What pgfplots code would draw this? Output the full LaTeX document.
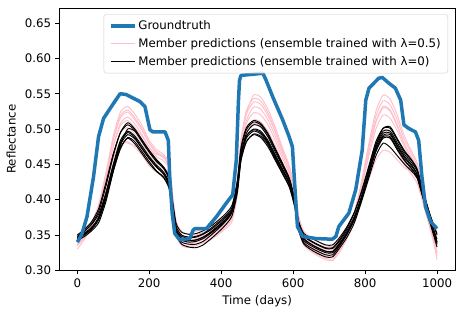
\documentclass[border=0pt]{standalone}
\usepackage{fontspec}
\setmainfont{DejaVu Sans}
\usepackage{pgfplots}
\pgfplotsset{compat=1.18}
\definecolor{mplblue}{HTML}{1F77B4}
\definecolor{mplpink}{HTML}{FFC0CB}
\begin{document}
\fontsize{11.8}{14.2}\selectfont
\begin{tikzpicture}
\path[use as bounding box] (-59.3pt,-44.7pt) rectangle (403.7pt,270.3pt);
\begin{axis}[
  at={(0pt,0pt)}, anchor=south west,
  scale only axis, width=395.7pt, height=262pt,
  xmin=-50, xmax=1050, ymin=0.30, ymax=0.671,
  xtick={0,200,400,600,800,1000},
  ytick={0.30,0.35,0.40,0.45,0.50,0.55,0.60,0.65},
  /pgf/number format/assume math mode=true,
  /pgf/number format/1000 sep={},
  yticklabel style={/pgf/number format/.cd, fixed, fixed zerofill, precision=2},
  tick label style={font=\fontsize{11.8}{14.2}\selectfont},
  label style={font=\fontsize{11.8}{14.2}\selectfont},
  tick align=outside, tick pos=left, major tick length=4.1pt,
  tick style={black, line width=0.95pt},
  axis line style={line width=0.95pt},
  xlabel={Time (days)}, ylabel={Reflectance},
  ylabel style={yshift=1pt},
  legend style={at={(1,1)}, anchor=north east, xshift=-7pt, yshift=-6pt,
    draw=black!20, rounded corners=2.5pt, fill=white, fill opacity=0.8, text opacity=1,
    font=\fontsize{11.8}{14.2}\selectfont, row sep=3.2pt, inner xsep=5pt, inner ysep=4pt},
  legend cell align=left,
  legend image code/.code={\draw[#1] (0pt,0pt) -- (24pt,0pt);},
  every axis plot/.append style={line join=round},
]
\addlegendimage{mplblue, line width=3.5pt}
\addlegendentry{Groundtruth}
\addlegendimage{mplpink, line width=1.2pt}
\addlegendentry{Member predictions (ensemble trained with λ=0.5)}
\addlegendimage{black, line width=1.2pt}
\addlegendentry{Member predictions (ensemble trained with λ=0)}

\pgfplotsset{pinkline/.style={mplpink, line width=0.95pt, smooth, tension=0.4, forget plot}}
\pgfplotsset{blackline/.style={black, line width=0.95pt, smooth, tension=0.4, forget plot}}

% pink members
\addplot[pinkline] coordinates {(0,.330) (20,.344) (40,.362) (60,.394) (80,.439) (100,.490) (120,.524) (140,.532) (160,.521) (180,.505) (200,.484) (220,.471) (240,.464) (255,.451) (265,.405) (275,.352) (290,.337) (310,.334) (330,.337) (350,.341) (370,.345) (390,.352) (410,.360) (430,.374) (445,.419) (455,.480) (470,.522) (490,.548) (510,.545) (530,.528) (550,.503) (570,.474) (590,.447) (605,.410) (615,.363) (630,.337) (660,.325) (690,.317) (710,.316) (730,.328) (750,.347) (770,.373) (790,.425) (810,.478) (830,.525) (850,.548) (870,.542) (890,.519) (910,.489) (930,.468) (945,.452) (960,.419) (980,.372) (1000,.315)};
\addplot[pinkline] coordinates {(0,.342) (20,.354) (40,.368) (60,.392) (80,.436) (100,.484) (120,.516) (140,.524) (160,.513) (180,.498) (200,.479) (220,.466) (240,.459) (255,.446) (265,.403) (275,.365) (290,.350) (310,.347) (330,.350) (350,.354) (370,.358) (390,.365) (410,.373) (430,.386) (445,.424) (455,.482) (470,.521) (490,.538) (510,.535) (530,.519) (550,.496) (570,.468) (590,.443) (605,.408) (615,.375) (630,.350) (660,.338) (690,.330) (710,.329) (730,.341) (750,.360) (770,.382) (790,.422) (810,.473) (830,.518) (850,.540) (870,.534) (890,.512) (910,.484) (930,.464) (945,.448) (960,.416) (980,.376) (1000,.342)};
\addplot[pinkline] coordinates {(0,.336) (20,.348) (40,.363) (60,.389) (80,.430) (100,.477) (120,.508) (140,.517) (160,.507) (180,.492) (200,.474) (220,.461) (240,.455) (255,.443) (265,.401) (275,.357) (290,.342) (310,.339) (330,.342) (350,.346) (370,.350) (390,.357) (410,.365) (430,.377) (445,.418) (455,.474) (470,.512) (490,.531) (510,.528) (530,.513) (550,.490) (570,.464) (590,.439) (605,.406) (615,.367) (630,.342) (660,.330) (690,.322) (710,.321) (730,.333) (750,.352) (770,.376) (790,.418) (810,.466) (830,.509) (850,.530) (870,.525) (890,.503) (910,.477) (930,.458) (945,.443) (960,.413) (980,.368) (1000,.325)};
\addplot[pinkline] coordinates {(0,.340) (20,.352) (40,.366) (60,.390) (80,.430) (100,.475) (120,.505) (140,.512) (160,.502) (180,.490) (200,.474) (220,.464) (240,.462) (255,.450) (265,.408) (275,.370) (290,.355) (310,.352) (330,.355) (350,.359) (370,.363) (390,.369) (410,.376) (430,.386) (445,.420) (455,.472) (470,.508) (490,.523) (510,.520) (530,.506) (550,.484) (570,.459) (590,.436) (605,.405) (615,.378) (630,.355) (660,.343) (690,.335) (710,.334) (730,.345) (750,.362) (770,.383) (790,.417) (810,.460) (830,.500) (850,.520) (870,.515) (890,.497) (910,.474) (930,.458) (945,.445) (960,.416) (980,.378) (1000,.345)};
\addplot[pinkline] coordinates {(0,.335) (20,.346) (40,.360) (60,.386) (80,.423) (100,.466) (120,.495) (140,.502) (160,.493) (180,.480) (200,.463) (220,.452) (240,.446) (255,.435) (265,.397) (275,.350) (290,.335) (310,.332) (330,.335) (350,.339) (370,.343) (390,.350) (410,.358) (430,.369) (445,.406) (455,.458) (470,.493) (490,.510) (510,.507) (530,.493) (550,.472) (570,.448) (590,.425) (605,.393) (615,.360) (630,.335) (660,.323) (690,.315) (710,.314) (730,.326) (750,.345) (770,.367) (790,.402) (810,.444) (830,.481) (850,.500) (870,.495) (890,.477) (910,.453) (930,.436) (945,.423) (960,.397) (980,.360) (1000,.320)};
\addplot[pinkline] coordinates {(0,.340) (20,.352) (40,.364) (60,.385) (80,.420) (100,.458) (120,.482) (140,.480) (160,.476) (180,.470) (200,.458) (220,.448) (240,.444) (255,.433) (265,.398) (275,.363) (290,.348) (310,.345) (330,.348) (350,.352) (370,.356) (390,.363) (410,.371) (430,.382) (445,.415) (455,.465) (470,.498) (490,.513) (510,.510) (530,.497) (550,.477) (570,.453) (590,.431) (605,.401) (615,.372) (630,.348) (660,.336) (690,.328) (710,.327) (730,.339) (750,.356) (770,.374) (790,.398) (810,.428) (830,.456) (850,.470) (870,.467) (890,.456) (910,.445) (930,.440) (945,.430) (960,.405) (980,.372) (1000,.335)};
\addplot[pinkline] coordinates {(0,.337) (20,.347) (40,.358) (60,.378) (80,.412) (100,.450) (120,.476) (140,.482) (160,.474) (180,.463) (200,.448) (220,.439) (240,.434) (255,.424) (265,.392) (275,.355) (290,.340) (310,.337) (330,.340) (350,.344) (370,.348) (390,.355) (410,.363) (430,.377) (445,.425) (455,.485) (470,.526) (490,.543) (510,.540) (530,.523) (550,.499) (570,.471) (590,.445) (605,.409) (615,.366) (630,.340) (660,.328) (690,.320) (710,.319) (730,.331) (750,.349) (770,.369) (790,.401) (810,.441) (830,.474) (850,.490) (870,.486) (890,.470) (910,.449) (930,.435) (945,.423) (960,.401) (980,.365) (1000,.325)};
\addplot[pinkline] coordinates {(0,.338) (20,.351) (40,.368) (60,.393) (80,.437) (100,.486) (120,.519) (140,.527) (160,.516) (180,.501) (200,.481) (220,.468) (240,.461) (255,.448) (265,.404) (275,.360) (290,.345) (310,.342) (330,.345) (350,.349) (370,.353) (390,.360) (410,.368) (430,.378) (445,.413) (455,.461) (470,.494) (490,.508) (510,.505) (530,.492) (550,.473) (570,.450) (590,.429) (605,.400) (615,.369) (630,.345) (660,.333) (690,.325) (710,.324) (730,.337) (750,.359) (770,.383) (790,.424) (810,.472) (830,.511) (850,.532) (870,.527) (890,.505) (910,.478) (930,.459) (945,.444) (960,.414) (980,.371) (1000,.332)};

% black members
\addplot[blackline] coordinates {(0,.347) (20,.355) (40,.366) (60,.384) (80,.420) (100,.462) (120,.495) (140,.509) (160,.500) (180,.485) (200,.470) (220,.457) (240,.446) (255,.430) (265,.395) (275,.362) (290,.350) (310,.347) (330,.348) (350,.352) (370,.359) (390,.367) (410,.376) (430,.389) (445,.428) (455,.474) (470,.502) (490,.512) (510,.508) (530,.494) (550,.473) (570,.452) (590,.430) (605,.399) (615,.369) (630,.349) (660,.339) (690,.332) (710,.332) (730,.344) (750,.360) (770,.381) (790,.412) (810,.447) (830,.482) (850,.501) (870,.501) (890,.484) (910,.467) (930,.455) (945,.442) (960,.414) (980,.380) (1000,.350)};
\addplot[blackline] coordinates {(0,.342) (20,.348) (40,.356) (60,.368) (80,.398) (100,.440) (120,.478) (140,.500) (160,.497) (180,.482) (200,.467) (220,.454) (240,.444) (255,.428) (265,.392) (275,.358) (290,.345) (310,.342) (330,.343) (350,.347) (370,.353) (390,.362) (410,.371) (430,.383) (445,.415) (455,.462) (470,.494) (490,.506) (510,.503) (530,.489) (550,.468) (570,.448) (590,.427) (605,.397) (615,.366) (630,.345) (660,.334) (690,.327) (710,.326) (730,.338) (750,.353) (770,.372) (790,.402) (810,.440) (830,.478) (850,.501) (870,.503) (890,.486) (910,.469) (930,.456) (945,.443) (960,.414) (980,.378) (1000,.340)};
\addplot[blackline] coordinates {(0,.346) (20,.353) (40,.360) (60,.375) (80,.410) (100,.450) (120,.484) (140,.497) (160,.490) (180,.476) (200,.461) (220,.449) (240,.439) (255,.424) (265,.388) (275,.352) (290,.340) (310,.337) (330,.337) (350,.341) (370,.349) (390,.358) (410,.368) (430,.382) (445,.418) (455,.463) (470,.490) (490,.500) (510,.497) (530,.484) (550,.464) (570,.444) (590,.423) (605,.392) (615,.360) (630,.339) (660,.329) (690,.322) (710,.322) (730,.335) (750,.351) (770,.372) (790,.403) (810,.439) (830,.474) (850,.494) (870,.494) (890,.477) (910,.461) (930,.449) (945,.436) (960,.408) (980,.372) (1000,.337)};
\addplot[blackline] coordinates {(0,.348) (20,.356) (40,.365) (60,.380) (80,.410) (100,.446) (120,.478) (140,.492) (160,.486) (180,.472) (200,.458) (220,.446) (240,.436) (255,.420) (265,.385) (275,.358) (290,.348) (310,.346) (330,.347) (350,.351) (370,.357) (390,.365) (410,.374) (430,.386) (445,.418) (455,.460) (470,.487) (490,.497) (510,.493) (530,.480) (550,.460) (570,.441) (590,.421) (605,.393) (615,.366) (630,.348) (660,.338) (690,.331) (710,.331) (730,.342) (750,.357) (770,.376) (790,.405) (810,.438) (830,.471) (850,.491) (870,.492) (890,.475) (910,.459) (930,.447) (945,.435) (960,.408) (980,.373) (1000,.344)};
\addplot[blackline] coordinates {(0,.343) (20,.350) (40,.358) (60,.372) (80,.402) (100,.440) (120,.472) (140,.488) (160,.482) (180,.468) (200,.454) (220,.441) (240,.432) (255,.418) (265,.383) (275,.350) (290,.337) (310,.333) (330,.332) (350,.336) (370,.344) (390,.353) (410,.363) (430,.377) (445,.410) (455,.455) (470,.482) (490,.493) (510,.490) (530,.478) (550,.458) (570,.438) (590,.418) (605,.388) (615,.357) (630,.337) (660,.326) (690,.319) (710,.319) (730,.332) (750,.347) (770,.367) (790,.397) (810,.430) (830,.462) (850,.480) (870,.474) (890,.462) (910,.450) (930,.440) (945,.430) (960,.404) (980,.368) (1000,.333)};
\addplot[blackline] coordinates {(0,.350) (20,.358) (40,.369) (60,.388) (80,.425) (100,.465) (120,.495) (140,.506) (160,.498) (180,.483) (200,.468) (220,.456) (240,.446) (255,.432) (265,.398) (275,.366) (290,.354) (310,.351) (330,.352) (350,.356) (370,.362) (390,.370) (410,.379) (430,.392) (445,.425) (455,.466) (470,.490) (490,.499) (510,.495) (530,.482) (550,.462) (570,.443) (590,.424) (605,.397) (615,.370) (630,.352) (660,.343) (690,.336) (710,.336) (730,.347) (750,.362) (770,.382) (790,.410) (810,.444) (830,.477) (850,.497) (870,.497) (890,.480) (910,.464) (930,.452) (945,.440) (960,.413) (980,.379) (1000,.352)};
\addplot[blackline] coordinates {(0,.344) (20,.351) (40,.360) (60,.376) (80,.408) (100,.448) (120,.481) (140,.495) (160,.488) (180,.473) (200,.459) (220,.447) (240,.437) (255,.422) (265,.387) (275,.355) (290,.343) (310,.340) (330,.341) (350,.345) (370,.352) (390,.360) (410,.369) (430,.383) (445,.422) (455,.470) (470,.499) (490,.510) (510,.506) (530,.492) (550,.471) (570,.450) (590,.428) (605,.396) (615,.363) (630,.342) (660,.332) (690,.325) (710,.325) (730,.337) (750,.352) (770,.372) (790,.400) (810,.434) (830,.468) (850,.487) (870,.487) (890,.470) (910,.455) (930,.443) (945,.432) (960,.406) (980,.371) (1000,.340)};
\addplot[blackline] coordinates {(0,.345) (20,.352) (40,.361) (60,.374) (80,.404) (100,.442) (120,.474) (140,.487) (160,.479) (180,.465) (200,.451) (220,.440) (240,.431) (255,.416) (265,.384) (275,.355) (290,.345) (310,.342) (330,.343) (350,.347) (370,.354) (390,.362) (410,.371) (430,.384) (445,.414) (455,.456) (470,.482) (490,.492) (510,.488) (530,.475) (550,.456) (570,.437) (590,.417) (605,.390) (615,.362) (630,.344) (660,.334) (690,.327) (710,.327) (730,.339) (750,.354) (770,.373) (790,.402) (810,.436) (830,.469) (850,.489) (870,.489) (890,.472) (910,.456) (930,.444) (945,.432) (960,.405) (980,.370) (1000,.338)};

% groundtruth
\addplot[mplblue, line width=3.5pt, forget plot] coordinates {
(0,.340) (12,.350) (27,.376) (45,.432) (59,.489) (73,.515) (95,.532) (119,.550) (135,.549) (174,.539) (188,.532) (202,.499) (210,.496) (244,.496) (253,.484) (257,.432) (264,.380) (271,.352) (285,.343) (313,.345) (322,.357) (327,.359) (359,.359) (387,.376) (414,.395) (432,.407) (442,.456) (448,.540) (451,.569) (455,.576) (516,.579) (525,.569) (543,.546) (571,.513) (589,.489) (598,.475) (603,.433) (612,.362) (626,.348) (663,.345) (709,.344) (719,.348) (727,.362) (755,.381) (774,.414) (792,.470) (802,.541) (811,.558) (838,.572) (848,.573) (866,.565) (884,.558) (899,.541) (908,.506) (921,.501) (940,.496) (949,.484) (958,.433) (968,.390) (982,.369) (1000,.359)};
\end{axis}
\end{tikzpicture}
\end{document}
